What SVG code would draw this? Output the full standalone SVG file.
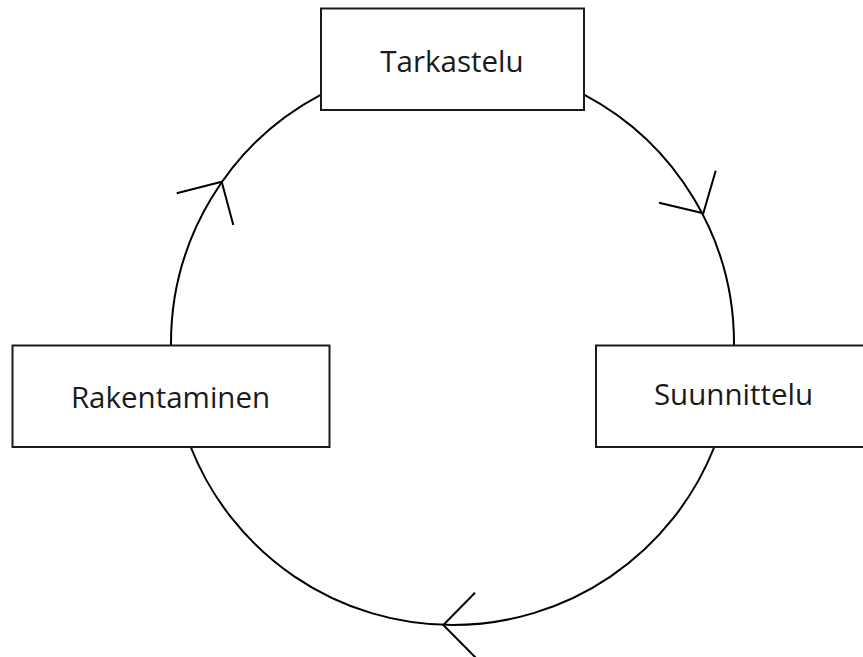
<svg xmlns="http://www.w3.org/2000/svg" width="863" height="657" viewBox="0 0 863 657">
<style>
.box{fill:#fff;stroke:#1a1a1a;stroke-width:2}
.lbl{font-family:"Open Sans","Noto Sans",sans-serif;font-size:29.5px;fill:#1a1a1a;text-anchor:middle}
.edge{fill:none;stroke:#000;stroke-width:2}
</style>
<rect width="863" height="657" fill="#fff"/>
<g id="connectors">
<path class="edge" d="M584,94.6 A281.5,281.5 0 0 1 734,345"/>
<path class="edge" d="M659,202.7 L703.3,213.3 L715.7,170.7"/>
<path class="edge" d="M714.3,447 A281.5,281.5 0 0 1 190.7,447"/>
<path class="edge" d="M475,592.7 L443.3,625 L476,658"/>
<path class="edge" d="M171,345 A281.5,281.5 0 0 1 321,94.6"/>
<path class="edge" d="M176.7,193.3 L221.7,181.7 L233.3,225"/>
</g>
<g id="tarkastelu">
<rect class="box" x="321" y="8.5" width="263" height="101.5"/>
<text class="lbl" x="452" y="72">Tarkastelu</text>
</g>
<g id="suunnittelu">
<rect class="box" x="596" y="345.5" width="270" height="101.5"/>
<text class="lbl" x="733.5" y="405">Suunnittelu</text>
</g>
<g id="rakentaminen">
<rect class="box" x="12.5" y="345.5" width="317" height="101.5"/>
<text class="lbl" x="170.5" y="408">Rakentaminen</text>
</g>
</svg>
